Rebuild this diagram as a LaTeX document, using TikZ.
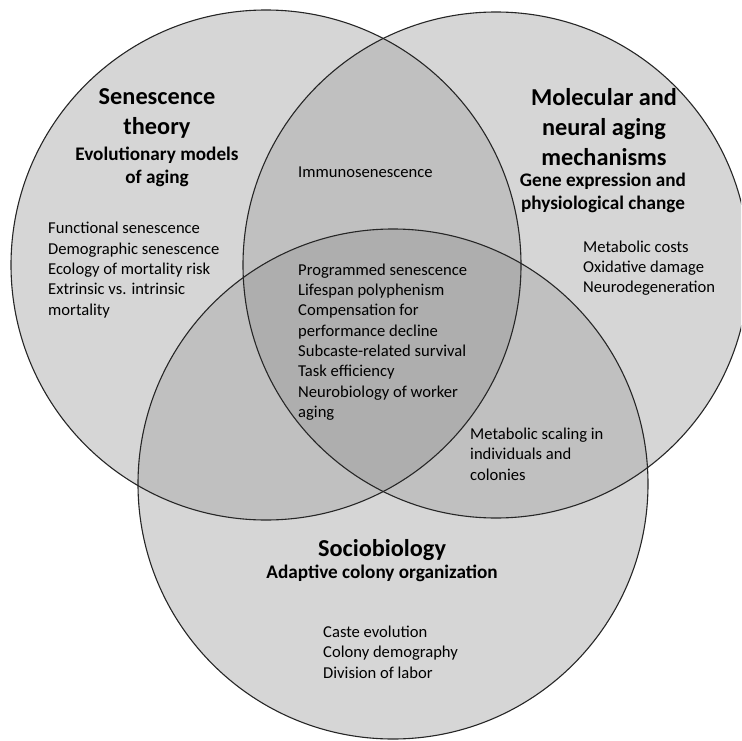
\documentclass[tikz,border=0pt]{standalone}
\usepackage{fontspec}
\setmainfont{Carlito}

\definecolor{oneset}{RGB}{214,214,214}
\definecolor{twoset}{RGB}{192,192,192}
\definecolor{threeset}{RGB}{174,174,174}

\tikzset{
  bigtitle/.style={align=center,inner sep=0pt,font=\bfseries\fontsize{24.3}{30}\selectfont},
  subtitle/.style={align=center,inner sep=0pt,font=\bfseries\fontsize{19.2}{23}\selectfont},
  itemlist/.style={align=left,anchor=west,inner sep=0pt,font=\fontsize{16.6}{20.3}\selectfont},
  rim/.style={draw=black!85,line width=1.1pt}
}

\begin{document}
\begin{tikzpicture}[x=1pt,y=-1pt]

\useasboundingbox (0,0) rectangle (741,741);
\clip (0,0) rectangle (741,741);

\coordinate (cL) at (266,265);
\coordinate (cR) at (496,265);
\coordinate (cB) at (393,484);

% single sets
\fill[oneset] (cL) circle (255);
\fill[oneset] (cR) circle (253);
\fill[oneset] (cB) circle (255);

% pairwise overlaps
\begin{scope}
  \clip (cL) circle (255);
  \fill[twoset] (cR) circle (253);
  \fill[twoset] (cB) circle (255);
\end{scope}
\begin{scope}
  \clip (cR) circle (253);
  \fill[twoset] (cB) circle (255);
\end{scope}

% all three
\begin{scope}
  \clip (cL) circle (255);
  \clip (cR) circle (253);
  \fill[threeset] (cB) circle (255);
\end{scope}

\draw[rim] (cL) circle (255);
\draw[rim] (cR) circle (253);
\draw[rim] (cB) circle (255);

\node[bigtitle] (senTitle) at (157,113) {Senescence\\theory};
\node[subtitle] (senSub) at (157,167) {Evolutionary models\\of aging};
\node[itemlist] (senList) at (48,270) {Functional senescence\\Demographic senescence\\Ecology of mortality risk\\Extrinsic vs. intrinsic\\mortality};

\node[bigtitle] (molTitle) at (604,127) {Molecular and\\neural aging\\mechanisms};
\node[subtitle] (molSub) at (603,193) {Gene expression and\\physiological change};
\node[itemlist] (molList) at (583,268) {Metabolic costs\\Oxidative damage\\Neurodegeneration};

\node[bigtitle] (socTitle) at (382,550) {Sociobiology};
\node[subtitle] (socSub) at (382,573) {Adaptive colony organization};
\node[itemlist] (socList) at (323,652) {Caste evolution\\Colony demography\\Division of labor};

\node[itemlist] (immuno) at (298,172) {Immunosenescence};
\node[itemlist] (scaling) at (470,454) {Metabolic scaling in\\individuals and\\colonies};
\node[itemlist] (core) at (298,342) {Programmed senescence\\Lifespan polyphenism\\Compensation for\\performance decline\\Subcaste-related survival\\Task efficiency\\Neurobiology of worker\\aging};

\end{tikzpicture}
\end{document}
